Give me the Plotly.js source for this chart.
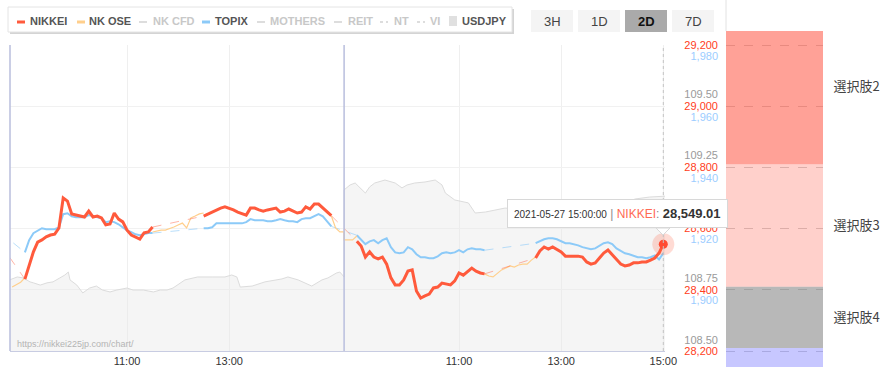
<!DOCTYPE html>
<html><head><meta charset="utf-8">
<script src="https://cdn.plot.ly/plotly-3.0.1.min.js"></script>
<style>html,body{margin:0;padding:0;background:#fff;}#chart{width:891px;height:376px;}</style>
</head><body><div id="chart"></div>
<script>
// ================= DATA =================
const day1Date = '2021-05-26';
const day2Date = '2021-05-27';
const prevCloseTime = '15:00';          // previous session close (day before day 1)
const prevCloseNikkei = 28553.98;
const prevCloseTopix = 1922.5;

const amTimes = ['09:00','09:05','09:10','09:15','09:20','09:25','09:30','09:35','09:40','09:45','09:50','09:55','10:00','10:05','10:10','10:15','10:20','10:25','10:30','10:35','10:40','10:45','10:50','10:55','11:00','11:05','11:10','11:15','11:20','11:25','11:30'];
const pmTimes = ['12:30','12:35','12:40','12:45','12:50','12:55','13:00','13:05','13:10','13:15','13:20','13:25','13:30','13:35','13:40','13:45','13:50','13:55','14:00','14:05','14:10','14:15','14:20','14:25','14:30','14:35','14:40','14:45','14:50','14:55','15:00'];

const nikkeiD1Am = [28435,28478,28524,28556,28563,28573,28579,28582,28602,28700,28690,28648,28644,28641,28638,28657,28638,28641,28635,28612,28615,28651,28631,28622,28595,28579,28573,28566,28586,28589,28605];
const nikkeiD1Pm = [28641,28648,28654,28661,28667,28671,28667,28661,28654,28648,28644,28667,28667,28661,28657,28661,28664,28667,28654,28657,28664,28657,28651,28654,28671,28664,28680,28680,28667,28654,28642.19];
const nikkeiD2Am = [28559,28543,28507,28524,28507,28501,28507,28484,28439,28416,28416,28432,28461,28465,28396,28373,28380,28386,28406,28409,28422,28419,28416,28429,28455,28448,28461,28471,28461,28455,28452];
const nikkeiD2Pm = [28504,28527,28540,28533,28540,28533,28524,28510,28510,28510,28510,28507,28491,28484,28488,28504,28520,28530,28514,28501,28484,28478,28481,28488,28488,28491,28491,28497,28504,28520,28549.01];

const topixD1Am = [1915.7,1919.7,1922.0,1922.9,1923.6,1923.3,1923.3,1923.3,1923.9,1928.2,1928.5,1927.5,1927.2,1927.2,1927.2,1927.9,1927.5,1927.2,1926.9,1925.6,1925.9,1925.6,1924.9,1923.9,1922.9,1922.3,1921.6,1921.3,1921.6,1922.0,1922.0];
const topixD1Pm = [1923.6,1923.6,1923.9,1925.2,1925.2,1925.2,1925.2,1925.2,1925.2,1925.2,1925.6,1926.6,1926.2,1926.2,1926.2,1925.9,1925.9,1926.2,1926.6,1926.2,1925.9,1925.9,1925.6,1926.6,1926.9,1926.9,1927.5,1928.2,1927.5,1925.9,1924.2];
const topixD2Am = [1921.3,1919.7,1918.4,1919.3,1919.7,1918.7,1919.7,1920.3,1917.4,1915.7,1915.4,1915.7,1917.4,1916.7,1915.1,1914.1,1914.1,1913.8,1913.8,1914.4,1915.4,1915.7,1915.4,1915.7,1916.4,1915.7,1916.7,1917.0,1916.7,1916.7,1916.4];
const topixD2Pm = [1918.7,1919.3,1920.0,1920.3,1920.3,1920.0,1919.3,1918.7,1918.7,1918.4,1918.0,1917.4,1917.0,1916.7,1917.0,1918.0,1918.7,1919.0,1918.4,1917.0,1916.1,1915.4,1915.1,1914.7,1914.1,1914.1,1913.8,1914.1,1914.7,1913.4,1915.4];

// NK OSE (futures) – only the stretches where it is not hidden behind NIKKEI
const osePreTimes = ['08:45','08:50','08:55','09:00'];
const oseLunchTimes = ['11:30','11:35','11:40','11:45','11:50','11:55','12:00','12:05','12:10','12:15','12:20','12:25','12:30'];
const osePostTimes = ['15:00','15:05','15:10','15:15'];
const oseD1Pre = [28409,28416,28425,28439];
const oseD1Lunch = [28589,28592,28595,28595,28599,28605,28612,28618,28602,28635,28641,28648,28651];
const oseD1Post = [28641,28602,28589,28589];
const oseD2Pre = [28563,28563,28563,28576];
const oseD2Lunch = [28452,28445,28442,28452,28465,28471,28478,28474,28481,28484,28484,28497,28507];

// USDJPY
const usdD1Times = ['08:42','08:51','08:58','09:06','09:10','09:18','09:26','09:33','09:41','09:47','09:51','09:53','10:01','10:08','10:16','10:24','10:31','10:40','10:48','11:00','11:07','11:19','11:31','11:39','11:47','11:54','12:08','12:23','12:40','12:55','13:03','13:09','13:13','13:27','13:42','14:02','14:09','14:21','14:37','14:49','14:56','15:06','15:10','15:15'];
const usdD1 = [108.744,108.756,108.752,108.736,108.732,108.723,108.732,108.736,108.752,108.764,108.776,108.744,108.723,108.691,108.711,108.719,108.703,108.695,108.703,108.711,108.703,108.703,108.695,108.703,108.703,108.711,108.744,108.756,108.756,108.756,108.764,108.756,108.715,108.719,108.736,108.748,108.756,108.744,108.719,108.744,108.752,108.772,108.776,108.756];
const usdD2Times = ['08:45','08:52','08:58','09:04','09:10','09:15','09:21','09:33','09:45','09:53','09:59','10:08','10:20','10:32','10:40','10:44','10:55','11:11','11:19','11:31','11:42','11:54','12:35','13:22','13:46','14:09','14:27','14:44','15:05'];
const usdD2 = [109.110,109.130,109.138,109.118,109.097,109.122,109.138,109.150,109.138,109.118,109.130,109.138,109.142,109.150,109.130,109.097,109.069,109.057,109.016,109.020,109.028,109.036,109.028,109.024,109.032,109.049,109.073,109.081,109.085];

// axis ticks
const xTickDays = [0,0,1,1,1];
const xTickLabels = ['11:00','13:00','11:00','13:00','15:00'];
const nikkeiTicks = [28200,28400,28600,28800,29000,29200];
const topixTicks = [1900,1920,1940,1960,1980];
const usdTicks = [108.50,108.75,109.00,109.25,109.50];

// prediction panel
const choiceNames = ['選択肢2','選択肢3','選択肢4','選択肢5'];
const choiceLow  = [28810,28410,28210,27810];
const choiceHigh = [29318,28810,28410,28210];

// legend and buttons
const legendNames = ['NIKKEI','NK OSE','NK CFD','TOPIX','MOTHERS','REIT','NT','VI','USDJPY'];
const legendActive = [true,true,false,true,false,false,false,false,true];
const rangeButtons = ['3H','1D','2D','7D'];
const activeButton = '2D';

// ================= HELPERS =================
const SESSION = 390, OPEN_MIN = 8*60+45;
function sm(day, t){ const p=t.split(':').map(Number); return day*SESSION + p[0]*60+p[1] - OPEN_MIN; }
function seg(day, times, vals){ return {x: times.map(t=>sm(day,t)), y: vals.slice()}; }
function join(segs){ const x=[],y=[]; segs.forEach((s,i)=>{ if(i>0){x.push(null);y.push(null);} x.push(...s.x); y.push(...s.y); }); return {x,y}; }
function connectors(prevVal, segs){
  const x=[],y=[];
  const first=s=>[s.x[0],s.y[0]], last=s=>[s.x[s.x.length-1],s.y[s.y.length-1]];
  const pairs=[[[sm(-1,prevCloseTime),prevVal], first(segs[0])]];
  for(let i=0;i<segs.length-1;i++) pairs.push([last(segs[i]), first(segs[i+1])]);
  pairs.forEach((p,i)=>{ if(i>0){x.push(null);y.push(null);} x.push(p[0][0],p[1][0]); y.push(p[0][1],p[1][1]); });
  return {x,y};
}
const L=10, T=31, PW=881, PH=336;
const px = v => (v-L)/PW;
const py = v => (T+PH-v)/PH;
function fmt(v){ const s=v.toFixed(2).split('.'); return s[0].replace(/\B(?=(\d{3})+(?!\d))/g, ',')+'.'+s[1]; }

// ================= SERIES =================
const nkSegs = [seg(0,amTimes,nikkeiD1Am), seg(0,pmTimes,nikkeiD1Pm), seg(1,amTimes,nikkeiD2Am), seg(1,pmTimes,nikkeiD2Pm)];
const tpSegs = [seg(0,amTimes,topixD1Am), seg(0,pmTimes,topixD1Pm), seg(1,amTimes,topixD2Am), seg(1,pmTimes,topixD2Pm)];
const nk = join(nkSegs), tp = join(tpSegs);
const nkC = connectors(prevCloseNikkei, nkSegs), tpC = connectors(prevCloseTopix, tpSegs);
const ose = join([seg(0,osePreTimes,oseD1Pre), seg(0,oseLunchTimes,oseD1Lunch),
  {x: seg(0,osePostTimes,oseD1Post).x.concat(seg(1,osePreTimes,oseD2Pre).x), y: oseD1Post.concat(oseD2Pre)},
  seg(1,oseLunchTimes,oseD2Lunch)]);
const usd = {x: usdD1Times.map(t=>sm(0,t)).concat(usdD2Times.map(t=>sm(1,t))), y: usdD1.concat(usdD2)};
const lastX = nkSegs[3].x[nkSegs[3].x.length-1];
const lastY = nikkeiD2Pm[nikkeiD2Pm.length-1];

const RED='#ff5a3c', BLUE='#8ccaf8', ORANGE='#ffcf8c';
const FONT='"Liberation Sans", Arial, sans-serif';

const traces = [
  {type:'scatter', mode:'lines', x:usd.x, y:usd.y, xaxis:'x', yaxis:'y', line:{color:'#dcdcdc', width:1}, fill:'tozeroy', fillcolor:'rgba(232,232,232,0.42)', hoverinfo:'skip'},
  {type:'scatter', mode:'lines', x:tpC.x, y:tpC.y, xaxis:'x', yaxis:'y2', line:{color:'rgba(140,202,248,0.6)', width:1, dash:'dash'}, hoverinfo:'skip'},
  {type:'scatter', mode:'lines', x:tp.x, y:tp.y, xaxis:'x', yaxis:'y2', line:{color:BLUE, width:2}, hoverinfo:'skip'},
  {type:'scatter', mode:'lines', x:ose.x, y:ose.y, xaxis:'x', yaxis:'y3', line:{color:ORANGE, width:1.2}, hoverinfo:'skip'},
  {type:'scatter', mode:'lines', x:nkC.x, y:nkC.y, xaxis:'x', yaxis:'y3', line:{color:'rgba(255,90,60,0.45)', width:1, dash:'dash'}, hoverinfo:'skip'},
  {type:'scatter', mode:'lines', x:nk.x, y:nk.y, xaxis:'x', yaxis:'y3', line:{color:RED, width:3}, hoverinfo:'skip'},
  {type:'scatter', mode:'markers', x:[lastX], y:[lastY], xaxis:'x', yaxis:'y3', cliponaxis:false, marker:{size:22, color:'rgba(255,90,60,0.22)'}, hoverinfo:'skip'},
  {type:'scatter', mode:'markers', x:[lastX], y:[lastY], xaxis:'x', yaxis:'y3', cliponaxis:false, marker:{size:9, color:'#ff4a30'}, hoverinfo:'skip'},
  {type:'bar', x:choiceNames.map(()=>0), y:choiceHigh.map((h,i)=>h-choiceLow[i]), base:choiceLow, width:1,
   xaxis:'x2', yaxis:'y4', marker:{color:['rgba(255,75,55,0.52)','rgba(255,75,55,0.26)','rgba(120,120,120,0.53)','rgba(100,100,255,0.36)'], line:{width:0}}, hoverinfo:'skip'},
  {type:'scatter', mode:'markers', x:[0], y:[(choiceLow[1]+choiceHigh[1])/2], xaxis:'x2', yaxis:'y5', marker:{opacity:0}, hoverinfo:'skip'}
];

// ================= LAYOUT =================
const shapes = [], annotations = [];
// legend box
shapes.push({type:'rect', xref:'paper', yref:'paper', x0:px(10), x1:px(514), y0:py(34), y1:py(9), fillcolor:'#d4d4d4', line:{width:0}, layer:'above'});
shapes.push({type:'rect', xref:'paper', yref:'paper', x0:px(8), x1:px(512), y0:py(32), y1:py(7), fillcolor:'#ffffff', line:{color:'#e4e4e4', width:1}, layer:'above'});
const iconX = [17,77,139,202,257,334,380,417,449];
const textX = [28,87,151,213,268,346,392,428,460];
const iconColor = [RED, ORANGE, '#dddddd', BLUE, '#dddddd', '#dddddd', '#dddddd', '#dddddd', '#e0e0e0'];
legendNames.forEach((n,i)=>{
  if(n==='USDJPY'){
    shapes.push({type:'rect', xref:'paper', yref:'paper', x0:px(iconX[i]), x1:px(iconX[i]+8), y0:py(26), y1:py(16), fillcolor:iconColor[i], line:{width:0}, layer:'above'});
  } else {
    const dotted = (n==='NT'||n==='VI');
    shapes.push({type:'line', xref:'paper', yref:'paper', x0:px(iconX[i]), x1:px(iconX[i]+8), y0:py(22), y1:py(22), line:{color:iconColor[i], width:legendActive[i]?3:2, dash:dotted?'dot':'solid'}, layer:'above'});
  }
  annotations.push({xref:'paper', yref:'paper', x:px(textX[i]), y:py(21.5), xanchor:'left', yanchor:'middle', showarrow:false,
    text:'<b>'+n+'</b>', font:{family:FONT, size:11, color: legendActive[i]?'#555':'#c8c8c8'}});
});
// range buttons
const btnX = [531,578,625,672];
rangeButtons.forEach((b,i)=>{
  const act = b===activeButton;
  shapes.push({type:'rect', xref:'paper', yref:'paper', x0:px(btnX[i]), x1:px(btnX[i]+42), y0:py(32), y1:py(10), fillcolor: act?'#aaaaaa':'#f4f4f4', line:{width:0}, layer:'above'});
  annotations.push({xref:'paper', yref:'paper', x:px(btnX[i]+21), y:py(21), xanchor:'center', yanchor:'middle', showarrow:false,
    text: act?'<b>'+b+'</b>':b, font:{family:FONT, size:13, color: act?'#111':'#444'}});
});
// separator right of chart (top area)
shapes.push({type:'line', xref:'paper', yref:'paper', x0:px(726), x1:px(726), y0:py(31), y1:py(0), line:{color:'#e2e2e2', width:1}});
// left border & day separator
const sepColor = '#b9bedd';
shapes.push({type:'line', xref:'x domain', yref:'y domain', x0:0, x1:0, y0:0, y1:1, line:{color:sepColor, width:1.5}});
shapes.push({type:'line', xref:'x', yref:'y domain', x0:sm(1,'08:45'), x1:sm(1,'08:45'), y0:0, y1:1, line:{color:sepColor, width:1.5}});
// hover spike
shapes.push({type:'line', xref:'x', yref:'y domain', x0:lastX, x1:lastX, y0:0, y1:1, line:{color:'#c4c4c4', width:1, dash:'dot'}});
// tooltip pointer
shapes.push({type:'path', xref:'paper', yref:'paper', path:`M ${px(656)},${py(228)} L ${px(663)},${py(235)} L ${px(670)},${py(228)} Z`, fillcolor:'#ffffff', line:{color:'#d8d8d8', width:1}, layer:'above'});
// tooltip
annotations.push({xref:'paper', yref:'paper', x:px(507), y:py(213.5), xanchor:'left', yanchor:'middle', showarrow:false,
  bgcolor:'#ffffff', bordercolor:'#d8d8d8', borderwidth:1, borderpad:6,
  text: `<span style="font-size:10px">${day2Date} 15:00:00</span> <span style="color:#888">|</span> <span style="color:#ff6a55;font-size:12px">NIKKEI</span><span style="color:#888">:</span> <b><span style="font-size:13px">${fmt(lastY)}</span></b>`,
  font:{family:FONT, size:12, color:'#333'}});
// watermark
annotations.push({xref:'paper', yref:'paper', x:px(15), y:py(344), xanchor:'left', yanchor:'middle', showarrow:false,
  text:'https://nikkei225jp.com/chart/', font:{family:FONT, size:9, color:'#b4b4b4'}});

const yPos = px(718);
const mainDomY = [py(351), py(45)];
const yCommon = {anchor:'free', position:yPos, side:'left', showline:false, zeroline:false, ticks:'', tickfont:{family:FONT, size:11}, domain:mainDomY, fixedrange:true};
const layout = {
  width:891, height:376, margin:{l:L, r:0, t:T, b:376-T-PH},
  paper_bgcolor:'#ffffff', plot_bgcolor:'rgba(0,0,0,0)', showlegend:false, hovermode:false,
  font:{family:FONT},
  barmode:'overlay',
  xaxis:{domain:[0, px(665)], range:[-2.5, 767], anchor:'y', showline:true, linecolor:'#c8cce2', linewidth:1,
    ticks:'', tickvals:xTickLabels.map((t,i)=>sm(xTickDays[i],t)), ticktext:xTickLabels,
    tickfont:{family:FONT, size:11, color:'#333'}, showgrid:true, gridcolor:'#efefef', zeroline:false},
  yaxis: Object.assign({}, yCommon, {range:[108.455,109.699], tickvals:usdTicks, tickformat:'.2f', tickfont:{family:FONT,size:11,color:'#9a9a9a'}, showgrid:false}),
  yaxis2: Object.assign({}, yCommon, {overlaying:'y', range:[1883.4,1983.6], tickvals:topixTicks, tickformat:',d', tickfont:{family:FONT,size:11,color:'#9ccdff'}, showgrid:false}),
  yaxis3: Object.assign({}, yCommon, {overlaying:'y', range:[28200,29200], tickvals:nikkeiTicks, tickformat:',d', tickfont:{family:FONT,size:11,color:'#ff3d22'}, showgrid:true, gridcolor:'#f1f1f1'}),
  xaxis2:{domain:[px(726), px(823)], range:[-0.5,0.5], anchor:'y4', visible:false, fixedrange:true},
  yaxis4:{domain:[0,1], anchor:'x2', range:[28147.7,29245.8], tickvals:nikkeiTicks, showticklabels:false, ticks:'', showgrid:true, gridcolor:'#d0d0d0', griddash:'dash', zeroline:false, showline:false},
  yaxis5:{domain:[0,1], anchor:'x2', overlaying:'y4', side:'right', range:[28147.7,29245.8],
    tickvals:choiceLow.map((l,i)=>(l+choiceHigh[i])/2), ticktext:choiceNames, ticks:'outside', ticklen:7, tickcolor:'rgba(0,0,0,0)',
    tickfont:{family:'"Noto Sans CJK JP", sans-serif', size:13, color:'#444'}, showgrid:false, zeroline:false, showline:false},
  shapes, annotations
};
Plotly.newPlot('chart', traces, layout, {displayModeBar:false, staticPlot:true});
</script></body></html>
